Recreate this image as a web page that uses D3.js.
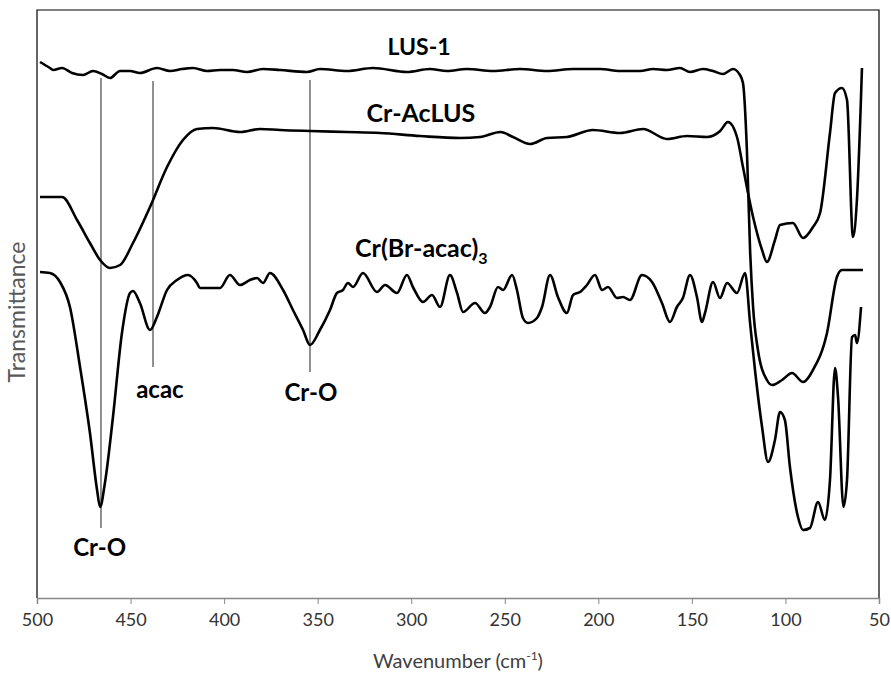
<!DOCTYPE html>
<html>
<head>
<meta charset="utf-8">
<title>Far-IR spectra</title>
<script src="https://cdn.jsdelivr.net/npm/d3@7"></script>
<style>
  body { margin: 0; background: #fff; }
  svg { display: block; font-family: Lato, "Open Sans", sans-serif; }
</style>
</head>
<body>
<div id="chart"></div>
<script>
// each trace: [wavenumber (cm-1), transmittance (a.u., traces offset)]
var lus1 = [
  [498.4,107.2],[493.1,106],[491.4,105.6],[486.6,106],[481.3,105],[475.4,104.6],[470.1,105.4],
  [465.3,104.8],[461.0,104],[455.6,105.4],[450.3,105.4],[445.0,105],[435.9,106],[428.9,105.4],
  [422.5,105.8],[416.6,106],[409.1,105.4],[402.2,105.6],[395.3,105.6],[387.8,105.2],[379.2,105.8],
  [370.1,105.6],[355.7,105.2],[348.8,105.8],[334.3,105.4],[320.4,106],[302.3,105.2],[290.0,105.8],
  [280.9,105.4],[270.2,105.8],[256.3,105.4],[241.9,105.8],[227.4,105.4],[213.5,105.8],[199.1,105.8],
  [188.4,105.4],[177.7,105.4],[170.8,105.8],[163.3,105.6],[156.4,106],[151.0,105.2],[144.1,105.8],
  [138.7,105.4],[133.4,104.8],[128.0,105.8],[124.3,104.6],[122.7,103],[120.6,89.6],[118.9,69.6],
  [117.3,58.2],[114.7,49.6],[109.9,43.6],[107.2,42.6],[101.8,43.6],[96.5,45],[90.6,43.2],
  [85.3,45.6],[77.8,53],[72.5,64.2],[69.8,65.6],[58.6,65.6]
];

var crAcLUS = [
  [498.4,80.2],[486.6,80.2],[478.6,75.6],[471.7,71],[466.3,67.6],[461.0,66],[455.6,66.6],
  [448.7,71],[439.6,78.2],[430.5,86.2],[422.0,91.6],[414.5,93.8],[405.9,94],[391.5,93.2],
  [380.8,93.8],[370.1,93.6],[354.1,93.4],[334.3,93.2],[316.7,93],[295.3,92.4],[273.9,92],
  [263.2,92.2],[252.3,93.2],[245.6,92.2],[236.5,90.8],[227.4,92],[216.8,92.2],[202.9,93.6],
  [188.4,93],[176.1,93.8],[163.3,91.8],[152.6,92.4],[141.9,92.2],[134.9,93.4],[130.7,95.2],
  [125.9,92.2],[122.7,86.2],[117.3,76.2],[112.5,69.6],[109.9,67.2],[105.6,71.6],[102.9,74.6],
  [96.0,75],[90.6,72],[85.3,74.2],[81.5,77],[76.2,93],[73.5,101],[69.8,102],[67.1,99.6],
  [63.9,72.2],[61.8,79.6],[59.1,106]
];

var crBrAcac = [
  [498.4,65.2],[493.1,65],[487.7,63.2],[482.4,58.2],[477.0,46.2],[471.7,33],[467.9,21.6],
  [466.3,18.2],[463.7,23],[459.4,36.2],[454.6,53],[450.3,61],[448.7,61.4],[445.0,59],
  [439.6,53.6],[435.9,56.2],[430.5,61.6],[425.2,63.6],[419.3,64.6],[414.5,63],[412.9,62],
  [402.2,62],[396.9,64.6],[391.5,62.6],[386.2,63.6],[382.4,64],[379.2,63],[375.5,65],
  [368.5,61.6],[363.2,57.6],[357.8,53.6],[354.1,50.6],[348.8,53.6],[343.4,57.6],[339.7,61],
  [336.5,61.6],[333.8,63],[331.1,62.2],[325.8,65],[318.3,61.2],[314.0,62.6],[307.6,61],
  [302.3,64.6],[299.1,62.2],[293.7,59.2],[288.9,60.6],[284.6,58.2],[279.3,64.6],[275.5,61],
  [272.3,57.2],[265.9,59],[260.6,57],[257.9,58.2],[253.6,62.2],[250.9,61.6],[246.1,64.6],
  [243.5,61.6],[240.3,56],[237.6,55],[232.8,56],[230.1,58.2],[225.8,64.6],[221.6,60.2],
  [216.8,57],[213.5,60.6],[209.8,61.2],[206.1,62.6],[201.8,64.6],[198.0,61.6],[194.8,62.2],
  [190.0,60],[186.8,60.2],[183.1,59.6],[176.7,64.6],[171.3,63.2],[166.0,59],[161.7,55.2],
  [158.0,58.2],[154.8,60],[151.0,64.6],[147.3,60.2],[144.6,55.2],[143.0,57],[138.7,63.2],
  [135.0,60],[131.2,63],[125.9,61],[121.6,65],[118.9,55],[116.1,45],[112.5,34.2],[109.3,27.2],
  [105.6,31.6],[102.9,37.2],[100.3,35.6],[97.6,26.2],[93.3,16.2],[90.6,13.6],[86.9,14],
  [82.6,19.2],[78.9,15.6],[76.2,23.6],[73.5,46],[71.9,40.2],[69.0,18.2],[67.1,23.6],
  [64.4,52.2],[62.8,52.6],[61.8,51],[59.6,58.2]
];

var xTicks = [500, 450, 400, 350, 300, 250, 200, 150, 100, 50];

// assignment markers: wavenumber, top, bottom
var markers = [[465.8, 104, 14], [438.0, 103.4, 46.2], [354.1, 103.6, 45.2]];
var bandLabels = [["Cr-O", 466.5, 10], ["acac", 434.3, 41.6], ["Cr-O", 353.6, 41]];
var traceLabels = [["LUS-1", 295.8, 110.2], ["Cr-AcLUS", 294.8, 97], ["Cr(Br-acac)", 294.6, 70]];

var width = 891, height = 673;

var svg = d3.select("#chart").append("svg")
    .attr("width", width)
    .attr("height", height);

var x = d3.scaleLinear().domain([500, 50]).range([37, 879]);
var y = d3.scaleLinear().domain([0, 118]).range([598, 8]);

// plot frame (left, top, right)
svg.append("path")
    .attr("d", "M" + x(500) + "," + y(0) + "V" + y(117.6) + "H" + x(50) + "V" + y(0))
    .attr("fill", "none")
    .attr("stroke", "#000")
    .attr("stroke-width", 1.2);

var xAxis = svg.append("g")
    .attr("transform", "translate(0," + y(0) + ")")
    .call(d3.axisBottom(x).tickValues(xTicks).tickSize(6).tickPadding(9).tickFormat(d3.format("d")));
xAxis.select(".domain").attr("stroke", "#888").attr("stroke-width", 1.5);
xAxis.selectAll(".tick line").attr("stroke", "#888");
xAxis.selectAll(".tick text")
    .attr("font-size", 18)
    .attr("fill", "#333")
    .attr("font-family", "Lato, sans-serif");

var title = svg.append("text")
    .attr("x", 458)
    .attr("y", 668)
    .attr("text-anchor", "middle")
    .attr("font-size", 20)
    .attr("fill", "#404040")
    .text("Wavenumber (cm");
title.append("tspan").attr("font-size", 12).attr("dy", -8).text("-1");
title.append("tspan").attr("dy", 8).text(")");

svg.append("text")
    .attr("transform", "translate(25,312) rotate(-90)")
    .attr("text-anchor", "middle")
    .attr("font-size", 23)
    .attr("fill", "#595959")
    .text("Transmittance");

// marker lines
svg.selectAll(".marker")
  .data(markers)
  .enter().append("line")
    .attr("class", "marker")
    .attr("x1", function(d) { return x(d[0]); })
    .attr("x2", function(d) { return x(d[0]); })
    .attr("y1", function(d) { return y(d[1]); })
    .attr("y2", function(d) { return y(d[2]); })
    .attr("stroke", "#222")
    .attr("stroke-width", 1);

var line = d3.line()
    .x(function(d) { return x(d[0]); })
    .y(function(d) { return y(d[1]); })
    .curve(d3.curveMonotoneX);

svg.selectAll(".trace")
  .data([lus1, crAcLUS, crBrAcac])
  .enter().append("path")
    .attr("class", "trace")
    .attr("d", line)
    .attr("fill", "none")
    .attr("stroke", "#000")
    .attr("stroke-width", 2.6)
    .attr("stroke-linejoin", "round");

svg.selectAll(".band")
  .data(bandLabels)
  .enter().append("text")
    .attr("class", "band")
    .attr("x", function(d) { return x(d[1]); })
    .attr("y", function(d) { return y(d[2]); })
    .attr("dy", "0.35em")
    .attr("text-anchor", "middle")
    .attr("font-size", 24)
    .attr("font-weight", "bold")
    .text(function(d) { return d[0]; });

var tl = svg.selectAll(".tlabel")
  .data(traceLabels)
  .enter().append("text")
    .attr("class", "tlabel")
    .attr("x", function(d) { return x(d[1]); })
    .attr("y", function(d) { return y(d[2]); })
    .attr("dy", "0.35em")
    .attr("text-anchor", "middle")
    .attr("font-size", function(d, i) { return i === 0 ? 23 : 25; })
    .attr("font-weight", "bold")
    .text(function(d) { return d[0]; });
tl.filter(function(d, i) { return i === 2; })
  .append("tspan").attr("font-size", 16).attr("dy", 7).text("3");
</script>
</body>
</html>
